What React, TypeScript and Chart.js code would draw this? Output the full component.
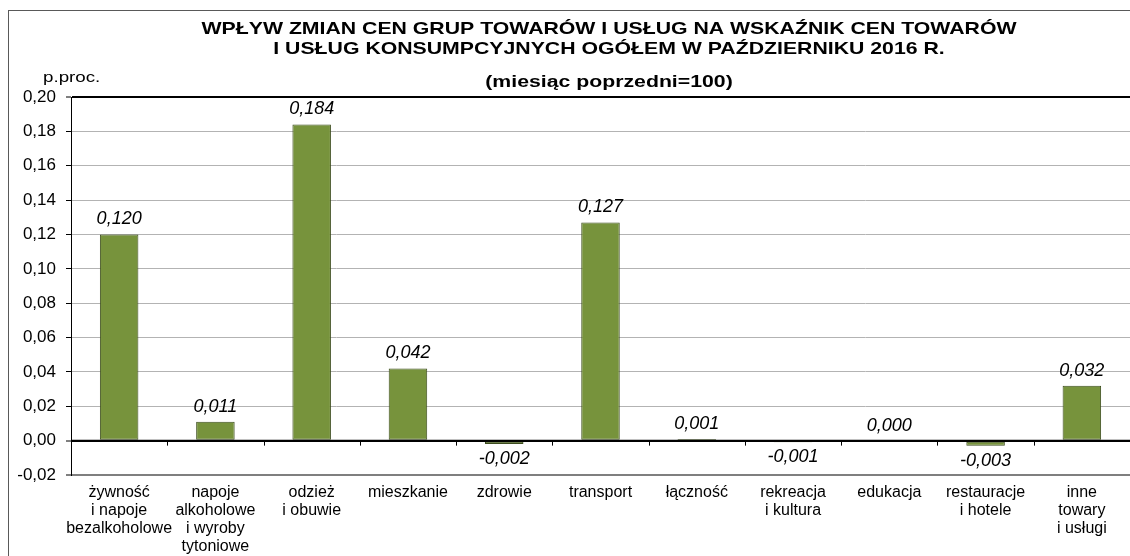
import React, { useEffect, useRef } from 'react';
import { Chart, registerables } from 'chart.js';

Chart.register(...registerables);

const categories: string[][] = [
  ['żywność', 'i napoje', 'bezalkoholowe'],
  ['napoje', 'alkoholowe', 'i wyroby', 'tytoniowe'],
  ['odzież', 'i obuwie'],
  ['mieszkanie'],
  ['zdrowie'],
  ['transport'],
  ['łączność'],
  ['rekreacja', 'i kultura'],
  ['edukacja'],
  ['restauracje', 'i hotele'],
  ['inne', 'towary', 'i usługi'],
];

const values: number[] = [0.12, 0.011, 0.184, 0.042, -0.002, 0.127, 0.001, -0.001, 0.0, -0.003, 0.032];

const titleLines: string[] = [
  'WPŁYW ZMIAN CEN GRUP TOWARÓW I USŁUG NA WSKAŹNIK CEN TOWARÓW',
  'I USŁUG KONSUMPCYJNYCH OGÓŁEM W PAŹDZIERNIKU 2016 R.',
  '(miesiąc poprzedni=100)',
];

const yUnitLabel = 'p.proc.';
const yMin = -0.02;
const yMax = 0.2;
const yStep = 0.02;

const FONT = '"Liberation Sans", Arial, Helvetica, sans-serif';
const fmt = (v: number, d: number) => v.toFixed(d).replace('.', ',');

const decorPlugin = {
  id: 'decor',
  afterDatasetsDraw(chart: any) {
    const ctx = chart.ctx as CanvasRenderingContext2D;
    const xs = chart.scales.x;
    const ys = chart.scales.y;
    const y0 = ys.getPixelForValue(0);
    ctx.save();
    ctx.strokeStyle = '#000';
    ctx.lineWidth = 2;
    ctx.beginPath();
    ctx.moveTo(chart.chartArea.left, y0);
    ctx.lineTo(chart.chartArea.right, y0);
    ctx.stroke();
    ctx.lineWidth = 1;
    for (let i = 0; i < categories.length - 1; i++) {
      const bx = Math.round((xs.getPixelForValue(i) + xs.getPixelForValue(i + 1)) / 2) + 0.5;
      ctx.beginPath();
      ctx.moveTo(bx, y0);
      ctx.lineTo(bx, y0 + 5);
      ctx.stroke();
    }
    const meta = chart.getDatasetMeta(0);
    ctx.font = `italic 18px ${FONT}`;
    ctx.fillStyle = '#000';
    ctx.textAlign = 'center';
    ctx.textBaseline = 'middle';
    meta.data.forEach((el: any, i: number) => {
      const v = values[i];
      const ty = v >= 0 ? el.y - 15 : el.y + 15;
      ctx.fillText(fmt(v, 3), el.x, ty);
    });
    ctx.restore();
  },
  afterDraw(chart: any) {
    const ctx = chart.ctx as CanvasRenderingContext2D;
    ctx.save();
    ctx.fillStyle = '#000';
    ctx.textBaseline = 'alphabetic';
    ctx.font = `bold 17px ${FONT}`;
    ctx.textAlign = 'center';
    const baselines = [22.5, 42.5, 75.5];
    titleLines.forEach((t, i) => {
      ctx.save();
      ctx.translate(600, baselines[i]);
      ctx.scale(1.25, 1);
      ctx.fillText(t, 0, 0);
      ctx.restore();
    });
    ctx.font = `15px ${FONT}`;
    ctx.textAlign = 'left';
    ctx.save();
    ctx.translate(34, 71);
    ctx.scale(1.25, 1);
    ctx.fillText(yUnitLabel, 0, 0);
    ctx.restore();
    ctx.restore();
  },
};

export default function App() {
  const canvasRef = useRef<HTMLCanvasElement | null>(null);

  useEffect(() => {
    if (!canvasRef.current) return;
    const chart = new Chart(canvasRef.current, {
      type: 'bar',
      data: {
        labels: categories,
        datasets: [
          {
            data: values,
            backgroundColor: '#77933C',
            borderColor: '#3d4d1e',
            borderWidth: 1,
            borderSkipped: false,
            barPercentage: 0.4,
            categoryPercentage: 1,
          },
        ],
      },
      options: {
        animation: false,
        responsive: true,
        maintainAspectRatio: false,
        devicePixelRatio: 1,
        layout: { padding: { top: 86, left: 0, right: 0, bottom: 0 } },
        plugins: {
          legend: { display: false },
          title: { display: false },
          tooltip: { enabled: false },
        },
        scales: {
          x: {
            afterFit: (s: any) => {
              s.height = 81;
            },
            grid: { display: false, drawTicks: false },
            border: { display: false },
            ticks: {
              padding: 9,
              autoSkip: false,
              maxRotation: 0,
              minRotation: 0,
              color: '#000',
              font: { family: FONT, size: 16, lineHeight: 1.125 },
            },
          },
          y: {
            min: yMin,
            max: yMax,
            afterFit: (s: any) => {
              s.width = 62;
            },
            ticks: {
              stepSize: yStep,
              padding: 10,
              color: '#000',
              font: { family: FONT, size: 17 },
              callback: (v: any) => fmt(Number(v), 2),
            },
            grid: {
              color: (c: any) => {
                const v = c.tick ? c.tick.value : 0;
                if (Math.abs(v - yMax) < 1e-9) return '#000';
                if (Math.abs(v - yMin) < 1e-9) return '#7f7f7f';
                if (Math.abs(v) < 1e-9) return '#000';
                return '#b3b3b3';
              },
              lineWidth: (c: any) => {
                const v = c.tick ? c.tick.value : 0;
                if (Math.abs(v - yMax) < 1e-9 || Math.abs(v - yMin) < 1e-9 || Math.abs(v) < 1e-9) return 2;
                return 1;
              },
              drawTicks: true,
              tickLength: 5,
              tickColor: '#000',
              tickWidth: 1,
            },
            border: { display: true, color: '#000', width: 1 },
          },
        },
      },
      plugins: [decorPlugin],
    });
    return () => chart.destroy();
  }, []);

  return (
    <div
      style={{
        position: 'fixed',
        left: 8,
        top: 10,
        width: 1121,
        height: 545,
        borderLeft: '1px solid #595959',
        borderTop: '1px solid #595959',
        background: '#fff',
        overflow: 'hidden',
      }}
    >
      <div style={{ position: 'relative', width: 1121, height: 545 }}>
        <canvas ref={canvasRef} />
      </div>
    </div>
  );
}
